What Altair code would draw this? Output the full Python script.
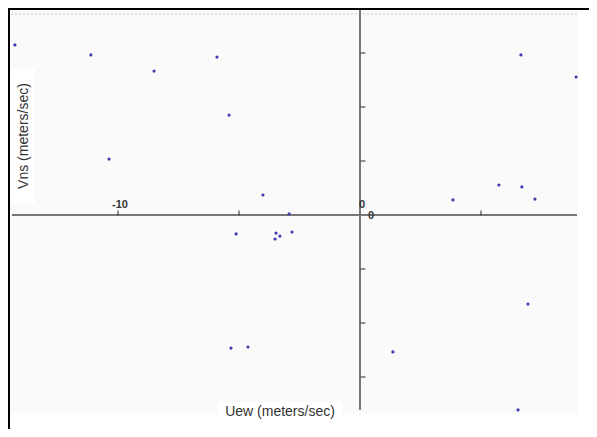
import altair as alt
import pandas as pd

# Wind components
uew = [-14.26, -11.12, -8.51, -5.91, -5.41, 6.65, 8.93, -10.37, -4.01, -5.12,
       -3.47, -3.31, -3.51, -2.81, -2.93, 3.84, 5.74, 6.69, 7.23, -5.33,
       -4.63, 1.36, 6.94, 6.53]
vns = [6.30, 5.93, 5.33, 5.85, 3.70, 5.93, 5.11, 2.07, 0.74, -0.70,
       -0.67, -0.78, -0.89, -0.63, 0.04, 0.56, 1.11, 1.04, 0.59, -4.93,
       -4.89, -5.07, -3.30, -7.22]

x_tick_values = [-10, -5, 5]
y_tick_values = [-6, -4, -2, 2, 4, 6]
x_tick_labels = ["-10", "0"]
x_tick_label_pos = [-10, 0]
y_tick_labels = ["0"]
y_tick_label_pos = [0]

x_title = "Uew (meters/sec)"
y_title = "Vns (meters/sec)"

W, H = 581, 421
xsc = alt.Scale(domain=[-14.545, 9.463], nice=False, zero=False)
ysc = alt.Scale(domain=[-7.926, 7.667], nice=False, zero=False)

pts = pd.DataFrame({"u": uew, "v": vns})
one = pd.DataFrame({"z": [0]})
xt = pd.DataFrame({"x": x_tick_values, "y": [0] * len(x_tick_values)})
yt = pd.DataFrame({"y": y_tick_values, "x": [0] * len(y_tick_values)})
xl = pd.DataFrame({"x": x_tick_label_pos, "t": x_tick_labels, "y": [0] * len(x_tick_labels)})
yl = pd.DataFrame({"y": y_tick_label_pos, "t": y_tick_labels, "x": [0] * len(y_tick_labels)})

base1 = alt.Chart(one)

bg = base1.mark_rect(color="#fafafa").encode(
    x=alt.value(3), x2=alt.value(570), y=alt.value(3), y2=alt.value(405))
border_left = base1.mark_rect(color="black").encode(
    x=alt.value(0), x2=alt.value(2), y=alt.value(0), y2=alt.value(H))
border_top = base1.mark_rect(color="black").encode(
    x=alt.value(0), x2=alt.value(W), y=alt.value(0), y2=alt.value(2))
dotted = base1.mark_rule(color="#e2e2e2", strokeDash=[2, 2], strokeWidth=2).encode(
    x=alt.value(3), x2=alt.value(570), y=alt.value(6))
ybox = base1.mark_rect(color="white").encode(
    x=alt.value(3), x2=alt.value(27), y=alt.value(60), y2=alt.value(195))
xbox = base1.mark_rect(color="white").encode(
    x=alt.value(210), x2=alt.value(334), y=alt.value(394), y2=alt.value(420))

haxis = base1.mark_rule(color="#777777", strokeWidth=2).encode(
    y=alt.Y("z:Q", scale=ysc, axis=None), x=alt.value(4), x2=alt.value(569))
vaxis = base1.mark_rule(color="#777777", strokeWidth=2).encode(
    x=alt.X("z:Q", scale=xsc, axis=None), y=alt.value(2), y2=alt.value(402))

xticks = alt.Chart(xt).mark_tick(orient="vertical", size=5, thickness=1.5,
                                 color="#333333", yOffset=-2).encode(
    x=alt.X("x:Q", scale=xsc, axis=None), y=alt.Y("y:Q", scale=ysc, axis=None))
yticks = alt.Chart(yt).mark_tick(orient="horizontal", size=5, thickness=1.5,
                                 color="#333333", xOffset=3).encode(
    x=alt.X("x:Q", scale=xsc, axis=None), y=alt.Y("y:Q", scale=ysc, axis=None))

points = alt.Chart(pts).mark_circle(size=10, color="#3b3bb0", opacity=1).encode(
    x=alt.X("u:Q", scale=xsc, axis=None), y=alt.Y("v:Q", scale=ysc, axis=None))

xlabels = alt.Chart(xl).mark_text(font="Liberation Sans", fontSize=11, color="#333333",
                                  dx=2, dy=-10, fontWeight="bold").encode(
    x=alt.X("x:Q", scale=xsc, axis=None), y=alt.Y("y:Q", scale=ysc, axis=None),
    text="t:N")
ylabels = alt.Chart(yl).mark_text(font="Liberation Sans", fontSize=11, color="#333333",
                                  dx=11, dy=1, fontWeight="bold").encode(
    x=alt.X("x:Q", scale=xsc, axis=None), y=alt.Y("y:Q", scale=ysc, axis=None),
    text="t:N")

xtitle = base1.mark_text(font="Liberation Sans", fontSize=14, color="#333333",
                         text=x_title).encode(x=alt.value(272), y=alt.value(404))
ytitle = base1.mark_text(font="Liberation Sans", fontSize=14, color="#333333",
                         angle=270, text=y_title).encode(x=alt.value(16), y=alt.value(128))

chart = alt.layer(
    bg, border_left, border_top, dotted, ybox, xbox, haxis, vaxis,
    xticks, yticks, points, xlabels, ylabels, xtitle, ytitle
).properties(
    width=W, height=H, padding=0, autosize=alt.AutoSizeParams(type="none"),
    background="white"
).configure_view(stroke=None)

chart.save("out.html", embed_options={"renderer": "svg", "actions": False})
